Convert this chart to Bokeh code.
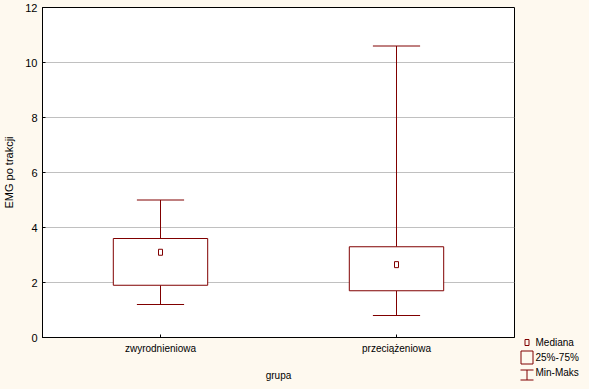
from bokeh.plotting import figure
from bokeh.layouts import row
from bokeh.models import ColumnDataSource, FactorRange, FixedTicker, Range1d
from bokeh.transform import dodge
from bokeh.core.properties import value
from bokeh.embed import file_html
from bokeh.resources import INLINE

# ---- data ----
groups = ["zwyrodnieniowa", "przeciążeniowa"]
mins = [1.2, 0.8]
q1 = [1.9, 1.7]
medians = [3.1, 2.65]
q3 = [3.6, 3.3]
maxs = [5.0, 10.6]
y_ticks = [0, 2, 4, 6, 8, 10, 12]
legend_labels = ["Mediana", "25%-75%", "Min-Maks"]

FONT = "Liberation Sans"
DARK_RED = "#800000"
BG = "#FEF9EF"

src = ColumnDataSource(dict(grupa=groups, mn=mins, q1=q1, med=medians, q3=q3, mx=maxs))

MAIN_W, H = 518, 389
p = figure(x_range=FactorRange(*groups), y_range=(0, 12),
           width=MAIN_W, height=H, output_backend="svg", toolbar_location=None,
           min_border_left=37, min_border_right=4, min_border_top=7, min_border_bottom=52,
           background_fill_color="white", border_fill_color=BG,
           outline_line_color="black", outline_line_width=1)
p.frame_align = False

p.xgrid.grid_line_color = None
p.ygrid.grid_line_color = "#C0C0C0"
p.ygrid.ticker = FixedTicker(ticks=y_ticks)

p.yaxis.ticker = FixedTicker(ticks=y_ticks)
for ax in (p.xaxis[0], p.yaxis[0]):
    ax.axis_line_color = "black"
    ax.major_tick_line_color = "black"
    ax.major_tick_in = 3
    ax.major_tick_out = 0
    ax.minor_tick_line_color = None
    ax.major_label_text_font = FONT
    ax.major_label_text_color = "black"
    ax.axis_label_text_font = FONT
    ax.axis_label_text_font_style = "normal"
    ax.axis_label_text_color = "black"
    ax.axis_label_text_font_size = "11px"

p.yaxis.major_label_text_font_size = "11px"
p.yaxis.major_label_standoff = 5
p.yaxis.axis_label = "EMG po trakcji"
p.yaxis.axis_label_standoff = 7

p.xaxis.major_label_text_font_size = "10px"
p.xaxis.major_label_standoff = 5
p.xaxis.axis_label = "grupa"
p.xaxis.axis_label_text_font_size = "10px"
p.xaxis.axis_label_standoff = 13

# whisker stems
p.segment(x0="grupa", y0="q3", x1="grupa", y1="mx", source=src, line_color=DARK_RED, line_width=1)
p.segment(x0="grupa", y0="q1", x1="grupa", y1="mn", source=src, line_color=DARK_RED, line_width=1)
# caps
p.segment(x0=dodge("grupa", -0.1, range=p.x_range), y0="mx",
          x1=dodge("grupa", 0.1, range=p.x_range), y1="mx",
          source=src, line_color=DARK_RED, line_width=1)
p.segment(x0=dodge("grupa", -0.1, range=p.x_range), y0="mn",
          x1=dodge("grupa", 0.1, range=p.x_range), y1="mn",
          source=src, line_color=DARK_RED, line_width=1)
# boxes
p.vbar(x="grupa", width=0.4, bottom="q1", top="q3", source=src,
       fill_color="white", line_color=DARK_RED, line_width=1)
# medians
p.rect(x="grupa", y="med", width=4, height=6, width_units="screen", height_units="screen",
       source=src, fill_color="white", line_color=DARK_RED, line_width=1)

# ---- legend panel: a small companion canvas whose units are pixels ----
LEG_W = 589 - MAIN_W
lg = figure(width=LEG_W, height=H, output_backend="svg", toolbar_location=None,
            x_range=Range1d(MAIN_W, 589), y_range=Range1d(H, 0),
            x_axis_type=None, y_axis_type=None,
            min_border_left=0, min_border_right=0, min_border_top=0, min_border_bottom=0,
            background_fill_color=BG, border_fill_color=BG, outline_line_color=None)
lg.frame_align = False
lg.xgrid.grid_line_color = None
lg.ygrid.grid_line_color = None

row_y = [342, 357, 372]          # legend row centres
icon_x = 526.5                    # icon centre
# Mediana icon (small square)
lg.quad(left=icon_x - 2, right=icon_x + 2, top=row_y[0] - 3, bottom=row_y[0] + 3,
        fill_color=None, line_color=DARK_RED, line_width=1)
# 25%-75% icon (box)
lg.quad(left=icon_x - 6, right=icon_x + 6, top=row_y[1] - 6.5, bottom=row_y[1] + 6.5,
        fill_color=None, line_color=DARK_RED, line_width=1)
# Min-Maks icon (whisker)
lg.segment(x0=[icon_x - 6.5, icon_x - 6.5, icon_x], y0=[row_y[2] - 2.5, row_y[2] + 7.5, row_y[2] - 2.5],
           x1=[icon_x + 6.5, icon_x + 6.5, icon_x], y1=[row_y[2] - 2.5, row_y[2] + 7.5, row_y[2] + 7.5],
           line_color=DARK_RED, line_width=1)
lg.text(x=[535] * 3, y=row_y, text=legend_labels, text_font=value(FONT),
        text_font_size="10px", text_color="black", text_baseline="middle", text_align="left")

layout = row(p, lg, spacing=0)

tpl = """{% block postamble %}<style>html,body{margin:0;padding:0;background:#FEF9EF;overflow:hidden;}</style>{% endblock %}"""
open("out.html", "w").write(file_html(layout, INLINE, template=tpl))
